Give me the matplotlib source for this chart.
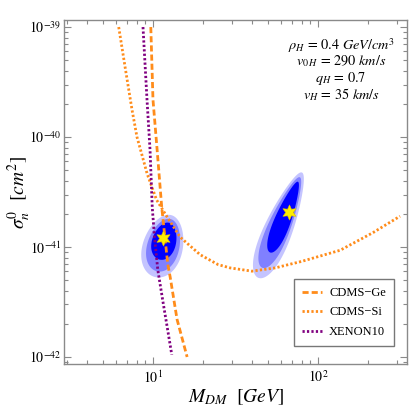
import numpy as np
import matplotlib
matplotlib.use("Agg")
import matplotlib.pyplot as plt
from matplotlib.ticker import LogLocator, FixedLocator, FuncFormatter, NullFormatter
from matplotlib.lines import Line2D

plt.rcParams['font.family'] = ['Liberation Serif', 'DejaVu Serif']
plt.rcParams['mathtext.fontset'] = 'stix'
plt.rcParams['mathtext.default'] = 'it'

# exclusion curves: mass [GeV], log10(sigma / cm^2)
ge_mass = [9.7, 10.0, 10.6, 11.3, 12.3, 12.7, 14.0, 16.1]
ge_logsig = [-39.0, -39.66, -40.12, -40.64, -41.16, -41.27, -41.66, -42.0]

si_mass = [6.2, 6.77, 7.46, 8.0, 8.42, 9.2, 10.5, 12.1, 14.6, 19.3, 24.8, 29.3,
           39.8, 55.0, 80.0, 136.0, 215.0, 314.0]
si_logsig = [-39.0, -39.36, -39.75, -40.0, -40.12, -40.33, -40.57, -40.72, -40.91,
             -41.07, -41.16, -41.19, -41.22, -41.19, -41.13, -41.03, -40.87, -40.72]

xe_mass = [8.7, 9.2, 9.6, 9.9, 10.2, 10.7, 11.5, 12.2, 13.0]
xe_logsig = [-39.0, -39.66, -40.12, -40.64, -40.9, -41.21, -41.5, -41.73, -41.98]

# best fit points
best_mass = [11.5, 66.7]
best_sigma = [1.2e-41, 2.1e-41]

# allowed regions: centre mass, centre sigma, half length, half width (px), tilt deg
# order: outer (light), middle, inner (dark)
low_centre_m = [11.5, 11.6, 11.7]
low_centre_s = [1.02e-41, 1.04e-41, 1.13e-41]
low_half_len = [32, 27, 19]
low_half_wid = [20, 16, 12]
low_tilt = [15, 15, 15]

high_centre_m = [58.9, 59.7, 62.2]
high_centre_s = [1.58e-41, 1.67e-41, 1.87e-41]
high_half_len = [57, 49, 38]
high_half_wid = [14, 11, 8]
high_tilt = [22.5, 22.5, 21.5]

region_colors = ['#c4c4ff', '#8080ff', '#0000ff']

x_major = [10, 100]
y_major = [1e-42, 1e-41, 1e-40, 1e-39]

ORANGE = '#ff8c1a'
PURPLE = '#800080'
GRAY = '#8a8a8a'

# pixel length of one decade on each axis (for drawing the blobs)
DEC_X = 165.0
DEC_Y = 110.0


def blob(ax, m0, s0, a, b, tilt, taper, color):
    t = np.linspace(0, 2 * np.pi, 240)
    th = np.radians(tilt)
    bt = b * (1 - taper * np.cos(t))
    dx = a * np.cos(t) * np.sin(th) + bt * np.sin(t) * np.cos(th)
    dy = a * np.cos(t) * np.cos(th) - bt * np.sin(t) * np.sin(th)
    ax.fill(m0 * 10 ** (dx / DEC_X), s0 * 10 ** (dy / DEC_Y), color=color,
            lw=0, zorder=1)


fig = plt.figure(figsize=(4.15, 4.15), dpi=100)
ax = fig.add_axes([64 / 415, 51 / 415, 343 / 415, 344 / 415])
ax.set_xscale('log')
ax.set_yscale('log')

for i in range(3):
    blob(ax, low_centre_m[i], low_centre_s[i], low_half_len[i], low_half_wid[i],
         low_tilt[i], 0.1, region_colors[i])
    blob(ax, high_centre_m[i], high_centre_s[i], high_half_len[i], high_half_wid[i],
         high_tilt[i], 0.3, region_colors[i])

lw = 2.0
dash_ge = (2.2, 1.1)
dot = (0.8, 0.8)
ax.plot(ge_mass, 10.0 ** np.array(ge_logsig), color=ORANGE, lw=lw,
        dashes=dash_ge, zorder=3)
ax.plot(si_mass, 10.0 ** np.array(si_logsig), color=ORANGE, lw=lw,
        dashes=dot, zorder=3)
ax.plot(xe_mass, 10.0 ** np.array(xe_logsig), color=PURPLE, lw=lw,
        dashes=dot, zorder=3)

ax.plot(best_mass, best_sigma, ls='none', marker=(6, 1, 0), ms=11,
        color='#ffee00', mec='#e0c000', mew=0.4, zorder=4)

ax.set_xlim(2.89, 346)
ax.set_ylim(8.63e-43, 1.159e-39)

# ticks
ax.xaxis.set_major_locator(FixedLocator(x_major))
ax.yaxis.set_major_locator(FixedLocator(y_major))
for axis in (ax.xaxis, ax.yaxis):
    axis.set_minor_locator(LogLocator(base=10, subs=np.arange(2, 10), numticks=20))
    axis.set_major_formatter(FuncFormatter(
        lambda v, p: r'$10^{%d}$' % int(round(np.log10(v)))))
    axis.set_minor_formatter(NullFormatter())
ax.tick_params(which='both', direction='in', top=True, right=True,
               color=GRAY, labelsize=10)
ax.tick_params(which='major', length=5, width=0.8)
ax.tick_params(which='minor', length=3, width=0.8)
ax.tick_params(axis='y', pad=2)
ax.tick_params(axis='x', pad=4)
for sp in ax.spines.values():
    sp.set_color(GRAY)
    sp.set_linewidth(1.0)

fig.text(236 / 415, 1 - 397 / 415, r'$M_{DM}\ \ [GeV]$', fontsize=14,
         ha='center', va='center')
fig.text(19 / 415, 1 - 192 / 415, r'$\sigma_n^0\ \ [cm^2]$', fontsize=14,
         ha='center', va='center', rotation=90)

# halo parameters
params = [r'$\rho_H\,=\,0.4\ GeV/cm^3$', r'$v_{0\,H}\,=\,290\ km/s$',
          r'$q_H\,=\,0.7$', r'$v_H\,=\,35\ km/s$']
for txt, yy in zip(params, [0.927, 0.881, 0.831, 0.782]):
    ax.text(0.808, yy, txt, transform=ax.transAxes, ha='center', va='center',
            fontsize=10.3)

handles = [Line2D([], [], color=ORANGE, lw=lw, dashes=dash_ge),
           Line2D([], [], color=ORANGE, lw=lw, dashes=dot),
           Line2D([], [], color=PURPLE, lw=lw, dashes=dot)]
leg = ax.legend(handles, ['CDMS\u2212Ge', 'CDMS\u2212Si', 'XENON10'],
                loc='lower right', bbox_to_anchor=(0.962, 0.052),
                borderaxespad=0, fancybox=False, fontsize=9,
                handlelength=1.6, handletextpad=0.55, labelspacing=0.6,
                borderpad=0.65, framealpha=1)
leg.get_frame().set_edgecolor('#777777')
leg.get_frame().set_linewidth(1.0)

fig.savefig('out.png', dpi=100)
